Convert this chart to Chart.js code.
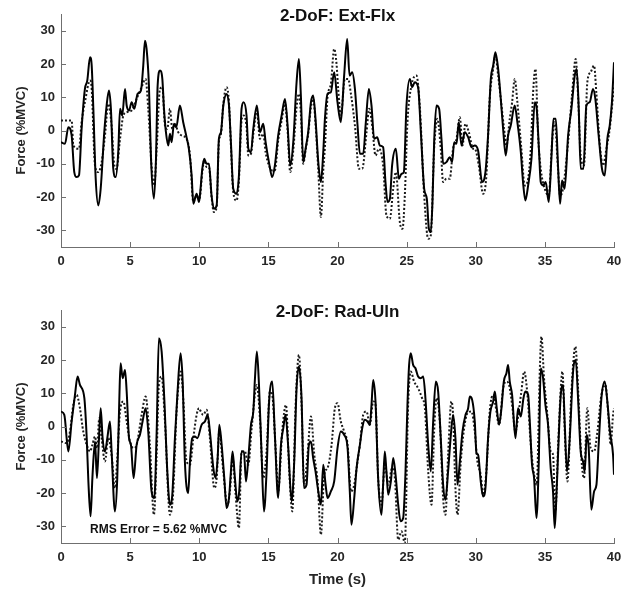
<!DOCTYPE html>
<html>
<head>
<meta charset="utf-8">
<title>2-DoF</title>
<script src="https://cdn.jsdelivr.net/npm/chart.js@4.4.0/dist/chart.umd.min.js"></script>
<style>
    body { margin: 0; background: #ffffff; }
    .panel { position: absolute; left: 0; width: 629px; height: 295px; }
</style>
</head>
<body>
<div class="panel" style="top:0px"><canvas id="canvas_ext_flx" width="629" height="295"></canvas></div>
<div class="panel" style="top:295px"><canvas id="canvas_rad_uln" width="629" height="295"></canvas></div>
<script>
// ---- Datos (tiempo en s, fuerza en %MVC) ----

// Ext-Flx, fuerza medida (línea continua)
const ef_t_med = [
    0.00,0.29,0.53,0.77,0.96,1.13,1.30,1.49,1.73,1.90,
    2.10,2.22,2.34,2.51,2.70,2.87,3.13,3.30,3.47,3.61,
    3.78,3.95,4.14,4.27,4.43,4.63,4.75,4.92,5.11,5.30,
    5.54,5.78,5.95,6.07,6.19,6.36,6.51,6.72,6.87,6.99,
    7.16,7.33,7.45,7.59,7.76,7.88,8.00,8.17,8.34,8.60,
    8.84,9.08,9.25,9.45,9.57,9.81,9.98,10.05,10.22,10.36,
    10.53,10.70,10.89,11.06,11.26,11.42,11.57,11.74,11.98,12.15,
    12.29,12.46,12.70,12.87,13.06,13.21,13.42,13.55,13.74,13.91,
    14.17,14.39,14.63,14.80,15.04,15.28,15.47,15.71,15.96,16.20,
    16.39,16.58,16.80,17.04,17.21,17.35,17.52,17.69,17.88,18.08,
    18.24,18.41,18.61,18.80,18.97,19.09,19.28,19.52,19.76,20.00,
    20.24,20.48,20.70,20.87,21.06,21.26,21.45,21.62,21.86,22.05,
    22.27,22.46,22.65,22.87,23.06,23.30,23.47,23.62,23.79,23.95,
    24.22,24.44,24.63,24.80,24.99,25.23,25.40,25.59,25.83,26.03,
    26.27,26.46,26.61,26.75,26.87,26.99,27.16,27.35,27.52,27.64,
    27.88,28.12,28.29,28.44,28.61,28.77,28.97,29.21,29.45,29.69,
    29.93,30.17,30.46,30.70,30.89,31.09,31.26,31.42,31.62,31.81,
    31.98,32.17,32.34,32.53,32.82,33.01,33.26,33.42,33.59,33.79,
    34.03,34.27,34.41,34.58,34.70,34.87,35.06,35.28,35.47,35.62,
    35.79,35.95,36.10,36.24,36.43,36.68,36.92,37.16,37.30,37.45,
    37.59,37.79,38.00,38.24,38.48,38.65,38.89,39.13,39.33,39.52,
    39.69,39.85,40.00
];
const ef_med = [
    -3.5,-4,1,-1.5,-12.5,-14,-13.5,0.5,12.5,15,
    22,19.5,6.5,-14.5,-22.5,-17.5,-0.5,7.5,12,6.5,
    -11.5,-14,-6.5,6.5,4.5,12.5,7.5,6,8.5,6.5,
    11,12,19.5,27,24.5,13.5,-8.5,-20.5,-8.5,13.5,
    18,15.5,6.5,-0.5,-4.5,-1,-3.5,2,1,7.5,
    2.5,-2,-5.5,-13.5,-22,-19,-21.5,-19.5,-11.5,-8.5,
    -10,-10,-19.5,-23.5,-22.5,-2.5,-0.5,7.5,11,7.5,
    -3.5,-17.5,-19,-13.5,6.5,8.5,4.5,-5.5,-6.5,0.5,
    7.5,-0.5,2,-3.5,-9.5,-14,-10.5,-1.5,4.5,9.5,
    1.5,-10.5,-3.5,14.5,21.5,10.5,-9.5,-5.5,-0.5,8.5,
    10.5,3.5,-9.5,-15.5,-6.5,3.5,11,11.5,17.5,8.5,
    2.5,16.5,27.5,16.5,17.5,12.5,1.5,-7,-7,2.5,
    12.5,7.5,-2.5,-2,-4.5,-5,-15.5,-21.5,-20.5,-10.5,
    -5.5,-14.5,-13,-12.5,7.5,15.5,13,14.5,13,-0.5,
    -17.5,-20.5,-29.5,-30.5,-21.5,-3.5,7.5,6.5,-2.5,-10,
    -9.5,-8,-9.5,-3.5,-4,2.5,-4.5,-0.5,-2,-5,
    -4.5,-6,-15.5,-12.5,-1.5,15.5,19.5,23.5,18.5,9.5,
    0.5,-7.5,-1.5,1.5,7.5,2.5,-6.5,-15.5,-21,-16.5,
    -8.5,8.5,6.5,-6.5,-15.5,-16.5,-15.5,-21.5,-8.5,3.5,
    3.5,-10.5,-22,-15,-17.5,-1.5,6.5,16.5,18.5,6.5,
    -11.5,-11.5,7.5,8.5,12.5,9.5,-1.5,-11.5,-13.5,-2.5,
    1.5,8.5,20.5
];

// Ext-Flx, estimación (línea punteada)
const ef_t_est = [
    0.00,0.77,0.89,1.30,1.49,1.73,2.10,2.22,2.46,2.70,
    2.94,3.18,3.42,3.66,3.86,4.02,4.27,4.51,4.75,5.11,
    5.47,5.83,6.12,6.31,6.55,6.75,6.92,7.16,7.33,7.52,
    7.69,7.88,8.05,8.24,8.48,8.72,9.08,9.33,9.57,9.81,
    9.98,10.05,10.22,10.36,10.53,10.70,10.89,11.06,11.26,11.42,
    11.57,11.74,11.98,12.15,12.29,12.46,12.70,12.87,13.06,13.21,
    13.42,13.55,13.74,13.91,14.17,14.39,14.63,14.80,15.04,15.28,
    15.47,15.71,15.96,16.20,16.39,16.58,16.80,17.04,17.21,17.35,
    17.52,17.69,17.88,18.08,18.24,18.41,18.61,18.80,18.97,19.09,
    19.28,19.52,19.76,19.93,20.05,20.24,20.53,20.77,20.97,21.26,
    21.55,21.79,22.10,22.29,22.51,22.75,22.99,23.30,23.54,23.79,
    24.03,24.22,24.51,24.70,24.87,25.06,25.35,25.71,25.95,26.27,
    26.56,26.75,26.99,27.23,27.47,27.64,27.88,28.12,28.36,28.61,
    28.85,29.04,29.25,29.50,29.81,29.93,30.22,30.53,30.77,31.01,
    31.26,31.42,31.62,31.81,32.05,32.22,32.46,32.63,32.82,33.01,
    33.30,33.54,33.74,33.98,34.15,34.32,34.51,34.70,34.99,35.28,
    35.52,35.71,35.95,36.10,36.31,36.68,36.96,37.23,37.40,37.59,
    37.83,38.07,38.31,38.56,38.72,38.96,39.20,39.45,39.69,40.00
];
const ef_est = [
    3,3,-4.5,-5.5,2.5,8.5,15,12.5,-10.5,-12.5,
    -9.5,-1.5,8,1.5,-10.5,-11.5,-2.5,4.5,5.5,6,
    9.5,13,15.5,6.5,-10.5,-16.5,-5.5,12.5,13,1.5,
    0.5,6.5,0.5,2,-0.5,-1.5,-2.5,-7.5,-21.5,-19.5,
    -20.5,-20,-12.5,-9,-11,-11,-20,-24.5,-23,-3.5,
    -1,8,13,8.5,-4.5,-18.5,-21,-15,3,4.5,
    1,-7.5,-7,-1,6,-2.5,-1,-6.5,-10.5,-12,
    -12,-3,3,8,0,-12.5,-6,7,11,5,
    -10,-6,-1,7,9.5,2,-12,-26,-12,-5,
    10,14,24.5,20,12.5,4.5,15.5,15.5,11,1.5,
    -11.5,-11.5,-0.5,6.5,1.5,-7.5,-5.5,-10.5,-25.5,-26.5,
    -17.5,-12.5,-27.5,-29.5,-19.5,2.5,13.5,16.5,7.5,-19.5,
    -32.5,-31.5,-5.5,3.5,-5.5,-15.5,-14.5,-14.5,-5.5,-2.5,
    4,-4.5,2,-0.5,-5.5,-5.5,-10.5,-19,-13.5,9.5,
    18.5,22.5,16.5,9.5,0.5,-4.5,3.5,8.5,15.5,8.5,
    -5.5,-16.5,-15.5,-5.5,11.5,18.5,-1.5,-11.5,-17.5,-19.5,
    -3.5,2.5,-11.5,-19.5,-17.5,-3.5,10.5,21.5,10.5,-7.5,
    -10.5,14.5,17.5,19.5,11.5,-3.5,-10.5,-5.5,0.5,13.5
];

// Rad-Uln, fuerza medida (línea continua)
const ru_t_med = [
    0.00,0.24,0.53,0.77,1.01,1.20,1.37,1.69,1.86,1.98,
    2.14,2.27,2.46,2.60,2.75,2.87,3.01,3.18,3.35,3.54,
    3.66,3.90,4.07,4.22,4.31,4.46,4.63,4.75,4.92,5.06,
    5.25,5.47,5.71,5.90,6.12,6.31,6.55,6.75,6.92,7.08,
    7.28,7.47,7.69,7.88,8.05,8.24,8.43,8.65,8.80,8.96,
    9.20,9.33,9.49,9.69,9.86,10.17,10.41,10.61,10.77,11.02,
    11.18,11.33,11.45,11.62,11.81,11.98,12.15,12.29,12.41,12.58,
    12.75,12.89,13.06,13.23,13.38,13.55,13.74,13.91,14.03,14.17,
    14.32,14.51,14.68,14.87,15.04,15.28,15.47,15.71,15.91,16.08,
    16.24,16.44,16.68,16.87,17.04,17.21,17.40,17.57,17.76,17.93,
    18.08,18.24,18.41,18.61,18.80,18.97,19.14,19.28,19.52,19.76,
    20.00,20.24,20.48,20.73,20.89,21.01,21.21,21.38,21.62,21.79,
    21.98,22.17,22.34,22.46,22.58,22.75,22.94,23.18,23.30,23.42,
    23.54,23.67,23.86,24.03,24.20,24.39,24.56,24.75,24.92,25.06,
    25.18,25.30,25.47,25.64,25.83,26.03,26.20,26.36,26.56,26.75,
    26.92,27.11,27.28,27.47,27.64,27.81,28.00,28.20,28.36,28.53,
    28.68,28.85,29.04,29.26,29.45,29.57,29.74,29.93,30.05,30.17,
    30.36,30.53,30.70,30.89,31.06,31.26,31.38,31.52,31.69,31.86,
    32.03,32.22,32.34,32.46,32.63,32.87,33.06,33.26,33.45,33.59,
    33.79,33.91,34.07,34.22,34.39,34.56,34.70,34.87,35.04,35.23,
    35.42,35.59,35.71,35.83,36.00,36.15,36.32,36.44,36.60,36.80,
    37.04,37.23,37.40,37.59,37.76,37.88,38.03,38.17,38.36,38.56,
    38.73,38.89,39.09,39.33,39.52,39.71,39.93,40.00
];
const ru_med = [
    4.5,3.5,-7.5,1.5,9.5,15,12.5,8.5,-3.5,-16.5,
    -27,-15.5,-4.5,-15.5,-3.5,5.5,-3.5,-7.5,-3.5,1.5,
    -7.5,-25.5,-15.5,8.5,19,14.5,17,10.5,-3.5,-5.5,
    -15.5,-5.5,-2.5,1.5,5.5,-1.5,-19.5,-21.5,-1.5,26.5,
    22.5,8.5,-13.5,-23.5,-20.5,-3.5,10.5,22,13.5,-10.5,
    -20,-10.5,-3.5,-3,-3.5,0.5,1.5,3.5,-1.5,-12.5,
    -15.5,-9.5,0.5,-5.5,-15.5,-24.5,-21.5,-13.5,-7.5,-15.5,
    -22.5,-19.5,-7.5,-7.5,-16.5,-9.5,0.5,4.5,14.5,22.5,
    12.5,-8.5,-25.5,-13.5,6.5,13.5,-2.5,-21.5,-5.5,-0.5,
    3.5,-6.5,-22.5,-10.5,11.5,18,8.5,-18.5,-17.5,-5.5,
    -4.5,-9.5,-13.5,-19.5,-23.5,-11.5,-17.5,-21.5,-19.5,-16.5,
    -6.5,-1.5,-2.5,-6.5,-19.5,-29.5,-21.5,-12.5,-5.5,-0.5,
    2,1.5,0.5,6.5,14,7.5,-15.5,-26.5,-17.5,-7.5,
    -13.5,-20.5,-16.5,-9.5,-14.5,-23.5,-28.5,-27.5,-13.5,6.5,
    18.5,22,18.5,17.5,15,14.5,15,8.5,-5.5,-13.5,
    1.5,13.5,10.5,-3.5,-17.5,-22,-13.5,-2.5,3.5,-3.5,
    -17.5,-10.5,-1.5,3.5,5.5,9,8,1.5,-8,-8.5,
    -16.5,-21,-18.5,-3.5,4.5,7.5,10.5,5.5,0.5,5.5,
    13.5,16,18.5,13.5,9.5,-3.5,5.5,3,8.5,10.5,
    9.5,1.5,-11.5,-15.5,-27.5,-10.5,17.5,14.5,6.5,0.5,
    -12.5,-19.5,-30.5,-21.5,-3.5,9.5,12.5,0.5,-13.5,-3.5,
    16.5,20,8.5,-7.5,-10.5,-13.5,-2.5,-6.5,-25,-19.5,
    -17.5,-5.5,8.5,13.5,7.5,-1.5,-8.5,-14.5
];

// Rad-Uln, estimación (línea punteada)
const ru_t_est = [
    0.00,0.41,0.65,0.89,1.13,1.37,1.61,1.86,2.10,2.27,
    2.46,2.60,2.77,2.94,3.18,3.42,3.66,3.90,4.07,4.27,
    4.51,4.75,4.99,5.25,5.47,5.83,6.12,6.43,6.72,6.92,
    7.08,7.28,7.52,7.88,8.12,8.36,8.67,8.84,9.08,9.33,
    9.57,9.81,9.98,10.05,10.29,10.53,10.77,11.09,11.26,11.45,
    11.74,12.03,12.22,12.41,12.63,12.87,13.06,13.30,13.55,13.79,
    14.17,14.39,14.63,14.87,15.11,15.28,15.52,15.71,16.00,16.27,
    16.51,16.73,16.97,17.21,17.40,17.59,17.83,18.08,18.32,18.56,
    18.80,19.04,19.28,19.57,19.81,20.00,20.24,20.48,20.73,20.97,
    21.21,21.45,21.62,21.86,22.10,22.34,22.58,22.75,22.94,23.18,
    23.42,23.67,23.95,24.15,24.39,24.63,24.87,25.11,25.30,25.54,
    25.83,26.12,26.32,26.56,26.80,26.99,27.16,27.40,27.64,27.81,
    28.00,28.24,28.36,28.53,28.68,28.92,29.16,29.40,29.69,29.93,
    30.12,30.36,30.53,30.77,31.01,31.26,31.42,31.69,31.98,32.22,
    32.41,32.63,32.87,33.11,33.30,33.50,33.74,33.98,34.22,34.41,
    34.63,34.75,34.94,35.18,35.42,35.59,35.76,35.95,36.15,36.27,
    36.44,36.63,36.92,37.21,37.40,37.64,37.83,38.07,38.31,38.56,
    38.80,39.09,39.38,39.57,39.76,39.93,40.00
];
const ru_est = [
    -4.5,-5,-1.5,6.5,9.5,5.5,-1.5,-5.5,-7.5,-5.5,
    -3,-6.5,2.5,-3.5,-10.5,-3.5,-8.5,-18.5,-9.5,4.5,
    7.5,1.5,-4.5,-6.5,-5.5,3.5,9,-5.5,-26.5,-8.5,
    12.5,15,1.5,-26.5,-19.5,4.5,16.5,8.5,-10.5,-11.5,
    -3.5,3.5,5.5,5,3.5,5,-3.5,-18.5,-15.5,-1.5,
    -13.5,-23.5,-19.5,-9.5,-20.5,-30.5,-7.5,-7.5,-11.5,-0.5,
    12.5,2.5,-15.5,-7.5,10.5,9.5,-6.5,-19.5,-1.5,6.5,
    -13.5,-25.5,6.5,21.5,6.5,-17.5,-8.5,3,-8.5,-16.5,
    -32.5,-14.5,-12.5,-5.5,5.5,7,1.5,-1.5,-5.5,-19.5,
    -17.5,-10.5,-5.5,3.5,4.5,0.5,7.5,6.5,-15.5,-23.5,
    -11.5,-17.5,-12.5,-15.5,-34,-31.5,-35,6.5,16.5,13.5,
    11.5,8.5,5.5,-13.5,-23.5,-1.5,8.5,1.5,-21.5,-26.5,
    -8.5,7.5,3.5,-18.5,-26.5,-10.5,-0.5,4,4.5,-1.5,
    -10.5,-14.5,-20.5,-13.5,4.5,9.5,6.5,0.5,11.5,13.5,
    12.5,6.5,-1.5,4.5,10.5,16.5,9.5,-5.5,-14.5,-17.5,
    16.5,27,14.5,3.5,-7.5,-8.5,-25.5,-6.5,11.5,16.5,
    -1.5,-16.5,10.5,24,11.5,-9.5,-15.5,5.5,-6.5,-7.5,
    -1.5,9.5,12.5,4.5,-5.5,3.5,5.5
];

// Marcas de los ejes
const ticks_x = [0, 5, 10, 15, 20, 25, 30, 35, 40];
const ticks_y = [-30, -20, -10, 0, 10, 20, 30];

// Textos
const titulo_ext_flx = '2-DoF: Ext-Flx';
const titulo_rad_uln = '2-DoF: Rad-Uln';
const nota_rms = 'RMS Error = 5.62 %MVC';

// Estilo general
const FUENTE = '"Liberation Sans", Arial, Helvetica, sans-serif';
const COLOR_TEXTO = '#262626';
const COLOR_EJE = '#6f6f6f';

// Une tiempo + valor en puntos {x, y}
function armar_puntos(tiempos, valores) {
    let n = Math.min(tiempos.length, valores.length);
    if (tiempos.length !== valores.length) {
        console.warn('Longitudes distintas: ' + tiempos.length + ' / ' + valores.length);
    }
    let puntos = [];
    for (let i = 0; i < n; i++) {
        puntos.push({ x: tiempos[i], y: valores[i] });
    }
    return puntos;
}

// Plugin: marcas hacia dentro (estilo MATLAB), título del panel y nota RMS
const plugin_ejes_matlab = {
    id: 'ejes_matlab',
    afterDraw(chart, args, opts) {
        const ctx = chart.ctx;
        const area = chart.chartArea;
        const sx = chart.scales.x;
        const sy = chart.scales.y;
        ctx.save();
        ctx.strokeStyle = COLOR_EJE;
        ctx.lineWidth = 1;
        ctx.beginPath();
        sx.ticks.forEach(function(t) {
            let px = Math.round(sx.getPixelForValue(t.value)) + 0.5;
            ctx.moveTo(px, area.bottom);
            ctx.lineTo(px, area.bottom - 5);
        });
        sy.ticks.forEach(function(t) {
            let py = Math.round(sy.getPixelForValue(t.value)) + 0.5;
            ctx.moveTo(area.left, py);
            ctx.lineTo(area.left + 5, py);
        });
        ctx.stroke();

        // Título del panel
        ctx.fillStyle = '#111111';
        ctx.font = 'bold 17px ' + FUENTE;
        ctx.textAlign = 'center';
        ctx.textBaseline = 'middle';
        ctx.fillText(opts.titulo, (area.left + area.right) / 2, area.top + 2);

        // Nota de error (sólo panel inferior)
        if (opts.nota) {
            ctx.fillStyle = '#111111';
            ctx.font = 'bold 12px ' + FUENTE;
            ctx.textAlign = 'left';
            ctx.fillText(opts.nota, sx.getPixelForValue(opts.nota_x), sy.getPixelForValue(opts.nota_y));
        }
        ctx.restore();
    }
};

function crear_grafica(id_canvas, titulo, t_med, v_med, t_est, v_est, extra) {
    return new Chart(document.getElementById(id_canvas), {
        type: 'line',
        data: {
            datasets: [
                {
                    label: 'Medida',
                    data: armar_puntos(t_med, v_med),
                    borderColor: '#000000',
                    borderWidth: 2,
                    pointRadius: 0,
                    cubicInterpolationMode: 'monotone',
                    fill: false
                },
                {
                    label: 'Estimada',
                    data: armar_puntos(t_est, v_est),
                    borderColor: '#1a1a1a',
                    borderWidth: 2,
                    borderDash: [2, 2],
                    pointRadius: 0,
                    cubicInterpolationMode: 'monotone',
                    fill: false
                }
            ]
        },
        options: {
            responsive: false,
            animation: false,
            layout: { padding: { top: extra.pad_top, right: 15, left: 0, bottom: 0 } },
            plugins: {
                legend: { display: false },
                tooltip: { enabled: false },
                ejes_matlab: {
                    titulo: titulo,
                    nota: extra.nota || null,
                    nota_x: 2.1,
                    nota_y: -31
                }
            },
            scales: {
                x: {
                    type: 'linear',
                    min: 0,
                    max: 40,
                    afterBuildTicks: function(scale) { scale.ticks = ticks_x.map(v => ({ value: v })); },
                    afterFit: function(scale) { scale.height = extra.alto_x; },
                    grid: { display: false, drawTicks: false },
                    border: { display: true, color: COLOR_EJE, width: 1 },
                    ticks: {
                        color: COLOR_TEXTO,
                        padding: 7,
                        maxRotation: 0,
                        autoSkip: false,
                        font: { family: FUENTE, size: 13, weight: 'bold' }
                    },
                    title: {
                        display: !!extra.titulo_x,
                        text: extra.titulo_x || '',
                        color: COLOR_TEXTO,
                        padding: { top: 0, bottom: 1 },
                        font: { family: FUENTE, size: 15, weight: 'bold' }
                    }
                },
                y: {
                    min: -35,
                    max: 35,
                    afterBuildTicks: function(scale) { scale.ticks = ticks_y.map(v => ({ value: v })); },
                    afterFit: function(scale) { scale.width = 61; },
                    grid: { display: false, drawTicks: false },
                    border: { display: true, color: COLOR_EJE, width: 1 },
                    ticks: {
                        color: COLOR_TEXTO,
                        padding: 6,
                        autoSkip: false,
                        font: { family: FUENTE, size: 13, weight: 'bold' }
                    },
                    title: {
                        display: true,
                        text: 'Force (%MVC)',
                        color: COLOR_TEXTO,
                        padding: { top: 14, bottom: 0 },
                        font: { family: FUENTE, size: 13, weight: 'bold' }
                    }
                }
            }
        },
        plugins: [plugin_ejes_matlab]
    });
}

// Panel superior: Ext-Flx
if (window.instancia_grafico_ext_flx) { window.instancia_grafico_ext_flx.destroy(); }
window.instancia_grafico_ext_flx = crear_grafica('canvas_ext_flx', titulo_ext_flx,
    ef_t_med, ef_med, ef_t_est, ef_est,
    { pad_top: 14, alto_x: 48 });

// Panel inferior: Rad-Uln
if (window.instancia_grafico_rad_uln) { window.instancia_grafico_rad_uln.destroy(); }
window.instancia_grafico_rad_uln = crear_grafica('canvas_rad_uln', titulo_rad_uln,
    ru_t_med, ru_med, ru_t_est, ru_est,
    { pad_top: 15, alto_x: 47, titulo_x: 'Time (s)', nota: nota_rms });
</script>
</body>
</html>
